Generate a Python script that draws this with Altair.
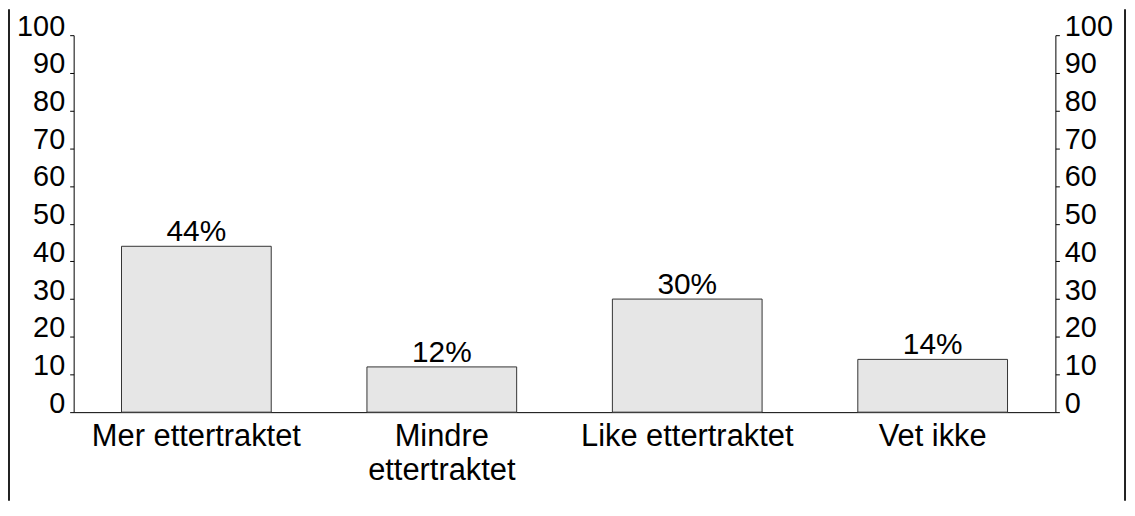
import altair as alt
import pandas as pd

categories = ["Mer ettertraktet", "Mindre ettertraktet", "Like ettertraktet", "Vet ikke"]
values = [44, 12, 30, 14]
labels = ["44%", "12%", "30%", "14%"]
y_ticks = [0, 10, 20, 30, 40, 50, 60, 70, 80, 90, 100]

df = pd.DataFrame({"cat": categories, "val": values, "lab": labels})

W, H = 987, 379
PL, PT, PR, PB = 66, 26, 72, 89
FONT = "Liberation Sans"

x_enc = alt.X(
    "cat:N", sort=categories, title=None,
    scale=alt.Scale(paddingInner=0.39, paddingOuter=0.195),
    axis=alt.Axis(
        labelAngle=0, ticks=False, domain=True, domainColor="black", domainWidth=1,
        labelFontSize=31, labelFont=FONT, labelColor="black", labelPadding=10,
        labelBaseline="top", labelLineHeight=34, labelLimit=400, grid=False,
        labelExpr="datum.label == 'Mindre ettertraktet' ? ['Mindre', 'ettertraktet'] : datum.label",
    ),
)

y_scale = alt.Scale(domain=[0, 100], nice=False)

def y_axis(orient):
    return alt.Axis(
        orient=orient, values=y_ticks, grid=False, domainColor="black", domainWidth=1,
        tickColor="black", tickSize=4, labelFontSize=29, labelFont=FONT, labelColor="black",
        labelPadding=5, labelBaseline="alphabetic", title=None,
    )

bars = alt.Chart(df).mark_bar(
    fill="#e6e6e6", stroke="#333333", strokeWidth=1
).encode(
    x=x_enc,
    y=alt.Y("val:Q", scale=y_scale, axis=y_axis("left")),
)

text = alt.Chart(df).mark_text(
    baseline="alphabetic", dy=-5, fontSize=30, font=FONT, color="black"
).encode(
    x=alt.X("cat:N", sort=categories),
    y=alt.Y("val:Q", scale=y_scale, axis=y_axis("right")),
    text="lab:N",
)

frame_df = pd.DataFrame({"k": [0]})
left_border = alt.Chart(frame_df).mark_rule(color="#222222", strokeWidth=2).encode(
    x=alt.value(-65), y=alt.value(-PT), y2=alt.value(H + PB)
)
right_border = alt.Chart(frame_df).mark_rule(color="#222222", strokeWidth=2).encode(
    x=alt.value(W + PR - 2), y=alt.value(-PT), y2=alt.value(H + PB)
)

chart = alt.layer(bars, text, left_border, right_border).resolve_axis(
    y="independent"
).properties(
    width=W, height=H,
    background="white",
    autosize=alt.AutoSizeParams(type="none"),
    padding={"left": PL, "top": PT, "right": PR, "bottom": PB},
).configure_view(stroke="transparent", strokeWidth=0).configure_axis(
    grid=False
)

chart.save("out.html", embed_options={"renderer": "svg", "actions": False})
